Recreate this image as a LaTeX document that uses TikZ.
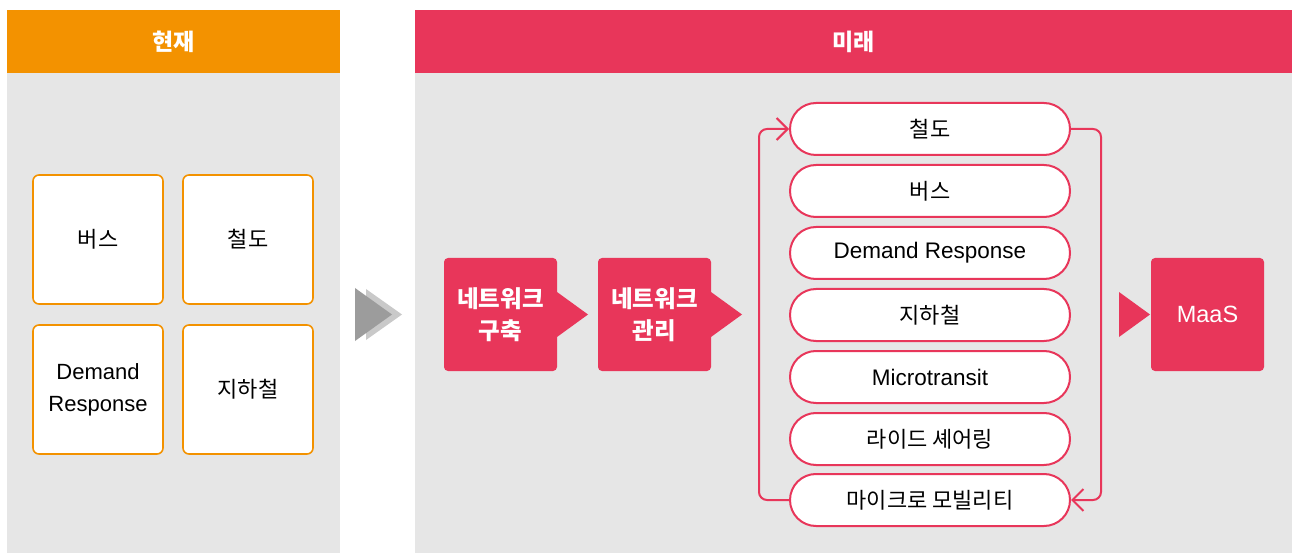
\documentclass[tikz,border=0pt]{standalone}
\usepackage{fontspec}
\setmainfont{Liberation Sans}
\newfontfamily\kr{Noto Sans CJK KR}
\usetikzlibrary{arrows.meta}
\definecolor{bggray}{HTML}{E6E6E6}
\definecolor{orng}{HTML}{F39200}
\definecolor{pnk}{HTML}{E8365A}
\definecolor{tridark}{HTML}{9C9C9C}
\definecolor{trilight}{HTML}{C9C9C9}
\tikzset{
  hdr/.style={fill=#1, draw=none, minimum height=63pt, inner sep=0pt, text=white, font=\kr\bfseries\fontsize{23}{27}\selectfont},
  nowbox/.style={draw=orng, line width=1.6pt, fill=white, rounded corners=6pt, minimum width=130pt, minimum height=129pt, inner sep=0pt, align=center, font=\fontsize{22}{32}\selectfont},
  krnow/.style={nowbox, font=\kr\fontsize{22}{26}\selectfont},
  stepbox/.style={fill=pnk, rounded corners=4pt, minimum width=113pt, minimum height=113pt, inner sep=0pt, align=center, text=white, font=\kr\bfseries\fontsize{23.5}{32}\selectfont},
  pill/.style={draw=pnk, line width=2pt, fill=white, rounded corners=26pt, minimum width=280pt, minimum height=52pt, inner sep=0pt, font=\fontsize{22.5}{26}\selectfont},
  krpill/.style={pill, font=\kr\fontsize{22}{26}\selectfont},
  conn/.style={draw=pnk, line width=2pt, rounded corners=8pt, -{Straight Barb[length=11pt, width=22pt, line width=2pt]}},
  tri/.style={fill=pnk, draw=none}
}
\begin{document}
\begin{tikzpicture}[x=1pt,y=-1pt]
\useasboundingbox (0,0) rectangle (1293,553);
% left panel
\fill[bggray] (7,73) rectangle (340,553);
\node[hdr=orng, minimum width=333pt, anchor=north west] (hnow) at (7,10) {현재};
\node[krnow] (n1) at (98,239.5) {버스};
\node[krnow] (n2) at (248,239.5) {철도};
\node[nowbox] (n3) at (98,389.5) {Demand\\Response};
\node[krnow] (n4) at (248,389.5) {지하철};
% grey arrows
\fill[trilight] (366,289) -- (402,314.5) -- (366,340) -- cycle;
\fill[tridark] (355,288) -- (392,314.5) -- (355,341) -- cycle;
% right panel
\fill[bggray] (415,73) rectangle (1292,553);
\node[hdr=pnk, minimum width=877pt, anchor=north west] (hfut) at (415,10) {미래};
\node[stepbox] (s1) at (500.5,314.5) {네트워크\\구축};
\node[stepbox] (s2) at (654.5,314.5) {네트워크\\관리};
\node[stepbox, font=\fontsize{23.5}{28}\selectfont] (maas) at (1207.5,314.5) {MaaS};
\fill[tri] (557,292) -- (588,314.5) -- (557,337) -- cycle;
\fill[tri] (711,292) -- (742,314.5) -- (711,337) -- cycle;
\fill[tri] (1119,292) -- (1150,314.5) -- (1119,337) -- cycle;
% pills
\node[krpill] (p1) at (930,129) {철도};
\node[krpill] (p2) at (930,191) {버스};
\node[pill] (p3) at (930,253) {Demand Response};
\node[krpill] (p4) at (930,315) {지하철};
\node[pill] (p5) at (930,377) {Microtransit};
\node[krpill] (p6) at (930,439) {라이드 셰어링};
\node[krpill] (p7) at (930,500) {마이크로 모빌리티};
% connectors
\draw[conn] (p7.west) -- ++(-30,0) |- (p1.west);
\draw[conn] (p1.east) -- ++(30,0) |- (p7.east);
\end{tikzpicture}
\end{document}
